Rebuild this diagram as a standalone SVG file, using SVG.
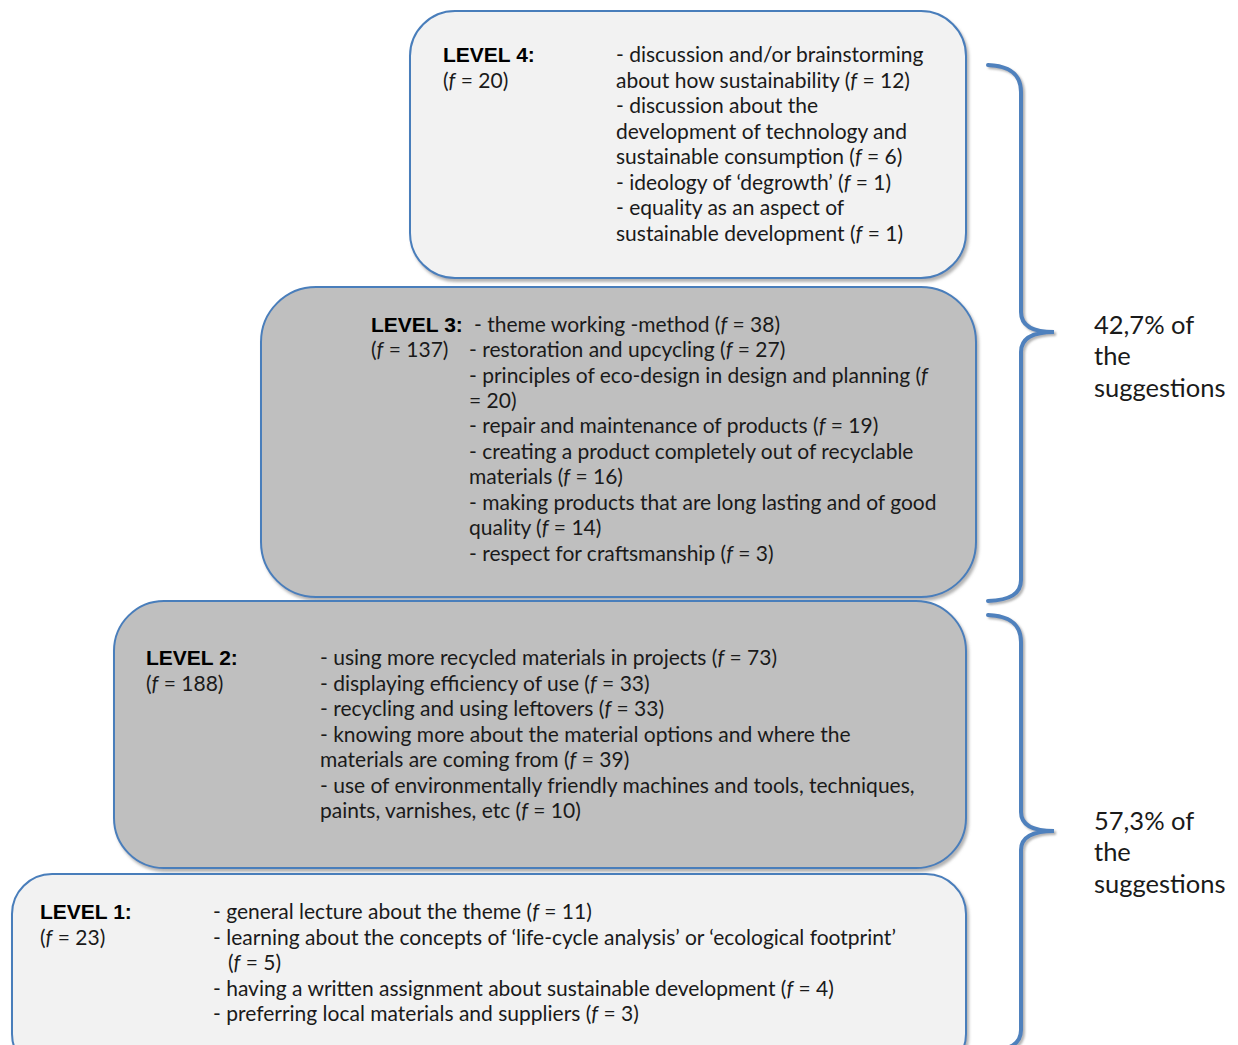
<svg xmlns="http://www.w3.org/2000/svg" width="1238" height="1045" viewBox="0 0 1238 1045">
<style>
.box{stroke:#4a7ebb;stroke-width:2;filter:url(#sh)}
.light{fill:#f2f2f2}
.dark{fill:#bfbfbf}
.t{font-family:Lato,"Open Sans",sans-serif;font-size:21px;fill:#1a1a1a}
.lv{font-family:"Liberation Sans",Arial,sans-serif;font-size:21px;font-weight:bold;fill:#000}
.i{font-style:italic}
.lab{font-family:Lato,"Open Sans",sans-serif;font-size:25.5px;fill:#1a1a1a}
.brace{fill:none;stroke:#4f81bd;stroke-width:4;stroke-linecap:round;filter:url(#sh2)}
</style>
<defs>
<filter id="sh" x="-5%" y="-5%" width="110%" height="115%"><feDropShadow dx="2" dy="3" stdDeviation="1.5" flood-color="#808080" flood-opacity="0.6"/></filter>
<filter id="sh2" x="-50%" y="-5%" width="200%" height="110%"><feDropShadow dx="2" dy="2" stdDeviation="1" flood-color="#808080" flood-opacity="0.6"/></filter>
</defs>
<rect width="1238" height="1045" fill="#fff"/>

<g id="level4">
<rect class="box light" x="410" y="11" width="556" height="267" rx="45"/>
<text class="lv" x="443" y="62">LEVEL 4:</text>
<text class="t" x="443" y="88">(<tspan class="i">f</tspan> = 20)</text>
<text class="t" x="616" y="62">- discussion and/or brainstorming</text>
<text class="t" x="616" y="88">about how sustainability (<tspan class="i">f</tspan> = 12)</text>
<text class="t" x="616" y="113">- discussion about the</text>
<text class="t" x="616" y="139">development of technology and</text>
<text class="t" x="616" y="164">sustainable consumption (<tspan class="i">f</tspan> = 6)</text>
<text class="t" x="616" y="190">- ideology of ‘degrowth’ (<tspan class="i">f</tspan> = 1)</text>
<text class="t" x="616" y="215">- equality as an aspect of</text>
<text class="t" x="616" y="241">sustainable development (<tspan class="i">f</tspan> = 1)</text>
</g>

<g id="level3">
<rect class="box dark" x="261" y="287" width="715" height="310" rx="55"/>
<text class="lv" x="371" y="332">LEVEL 3:</text>
<text class="t" x="371" y="357">(<tspan class="i">f</tspan> = 137)</text>
<text class="t" x="474" y="332">- theme working -method (<tspan class="i">f</tspan> = 38)</text>
<text class="t" x="469" y="357">- restoration and upcycling (<tspan class="i">f</tspan> = 27)</text>
<text class="t" x="469" y="383">- principles of eco-design in design and planning (<tspan class="i">f</tspan></text>
<text class="t" x="469" y="408">= 20)</text>
<text class="t" x="469" y="433">- repair and maintenance of products (<tspan class="i">f</tspan> = 19)</text>
<text class="t" x="469" y="459">- creating a product completely out of recyclable</text>
<text class="t" x="469" y="484">materials (<tspan class="i">f</tspan> = 16)</text>
<text class="t" x="469" y="510">- making products that are long lasting and of good</text>
<text class="t" x="469" y="535">quality (<tspan class="i">f</tspan> = 14)</text>
<text class="t" x="469" y="561">- respect for craftsmanship (<tspan class="i">f</tspan> = 3)</text>
</g>

<g id="level2">
<rect class="box dark" x="114" y="601" width="852" height="267" rx="50"/>
<text class="lv" x="146" y="665">LEVEL 2:</text>
<text class="t" x="146" y="691">(<tspan class="i">f</tspan> = 188)</text>
<text class="t" x="320" y="665">- using more recycled materials in projects (<tspan class="i">f</tspan> = 73)</text>
<text class="t" x="320" y="691">- displaying efficiency of use (<tspan class="i">f</tspan> = 33)</text>
<text class="t" x="320" y="716">- recycling and using leftovers (<tspan class="i">f</tspan> = 33)</text>
<text class="t" x="320" y="742">- knowing more about the material options and where the</text>
<text class="t" x="320" y="767">materials are coming from (<tspan class="i">f</tspan> = 39)</text>
<text class="t" x="320" y="793">- use of environmentally friendly machines and tools, techniques,</text>
<text class="t" x="320" y="818">paints, varnishes, etc (<tspan class="i">f</tspan> = 10)</text>
</g>

<g id="level1">
<rect class="box light" x="12" y="874" width="954" height="200" rx="40"/>
<text class="lv" x="40" y="919">LEVEL 1:</text>
<text class="t" x="40" y="945">(<tspan class="i">f</tspan> = 23)</text>
<text class="t" x="213" y="919">- general lecture about the theme (<tspan class="i">f</tspan> = 11)</text>
<text class="t" x="213" y="945">- learning about the concepts of ‘life-cycle analysis’ or ‘ecological footprint’</text>
<text class="t" x="228" y="970">(<tspan class="i">f</tspan> = 5)</text>
<text class="t" x="213" y="996">- having a written assignment about sustainable development (<tspan class="i">f</tspan> = 4)</text>
<text class="t" x="213" y="1021">- preferring local materials and suppliers (<tspan class="i">f</tspan> = 3)</text>
</g>

<g id="connectors">
<path id="brace1" class="brace" d="M988,65 C1010,66 1021,74 1021,92 L1021,312 C1021,326 1034,332 1054,332 C1034,332 1021,338 1021,352 L1021,580 C1021,594 1010,600 988,601"/>
<path id="brace2" class="brace" d="M988,615 C1010,616 1021,624 1021,642 L1021,812 C1021,826 1034,831 1054,831 C1034,831 1021,836 1021,850 L1021,1030 C1021,1044 1010,1050 988,1051"/>
</g>

<g id="label1">
<text class="lab" x="1094" y="334">42,7% of</text>
<text class="lab" x="1094" y="365">the</text>
<text class="lab" x="1094" y="397">suggestions</text>
</g>
<g id="label2">
<text class="lab" x="1094" y="830">57,3% of</text>
<text class="lab" x="1094" y="861">the</text>
<text class="lab" x="1094" y="893">suggestions</text>
</g>
</svg>
